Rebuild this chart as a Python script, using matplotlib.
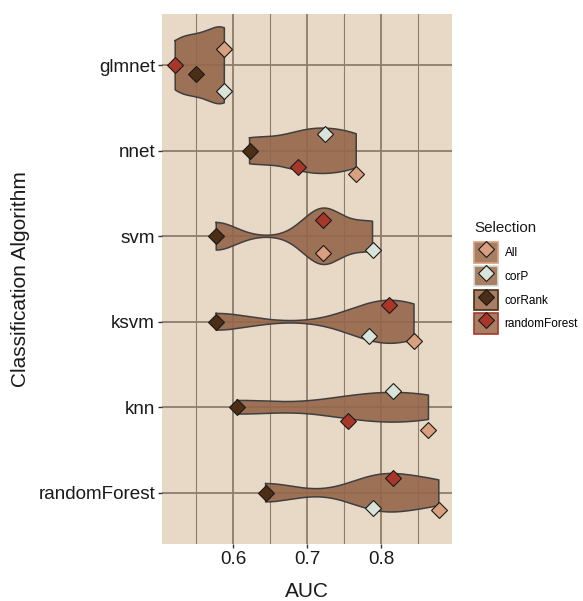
import numpy as np
import matplotlib
matplotlib.use('Agg')
import matplotlib.pyplot as plt
from matplotlib.patches import Rectangle
from matplotlib.lines import Line2D
from matplotlib.ticker import MultipleLocator

plt.rcParams['font.family'] = ['Liberation Sans', 'DejaVu Sans']

# Data
algorithms = ['glmnet', 'nnet', 'svm', 'ksvm', 'knn', 'randomForest']
selections = ['All', 'corP', 'corRank', 'randomForest']
auc = {
    'All':          [0.588, 0.766, 0.721, 0.844, 0.8635, 0.8775],
    'corP':         [0.588, 0.724, 0.788, 0.783, 0.816, 0.788],
    'corRank':      [0.5496, 0.622, 0.577, 0.577, 0.605, 0.6437],
    'randomForest': [0.5216, 0.688, 0.721, 0.810, 0.755, 0.816],
}
# vertical jitter of the points (in category units)
jitter = {
    'All':          [-0.196, 0.27, 0.20, 0.226, 0.265, 0.20],
    'corP':         [0.30, -0.195, 0.156, 0.164, -0.19, 0.18],
    'corRank':      [0.105, 0.0, 0.0, 0.0, 0.0, 0.0],
    'randomForest': [0.0, 0.19, -0.195, -0.20, 0.156, -0.176],
}
colors = {'All': '#D9A07F', 'corP': '#D9E3DA',
          'corRank': '#4B2E14', 'randomForest': '#A8372A'}


# Gaussian KDE with R's nrd0 bandwidth, trimmed to data range
def kde_trim(d, n=512):
    d = np.asarray(d)
    sd = d.std(ddof=1)
    q1, q3 = np.percentile(d, [25, 75])
    lo = min(sd, (q3 - q1) / 1.34)
    bw = 0.9 * lo * len(d) ** -0.2
    x = np.linspace(d.min(), d.max(), n)
    dens = np.exp(-0.5 * ((x[:, None] - d[None, :]) / bw) ** 2).sum(1)
    dens /= len(d) * bw * np.sqrt(2 * np.pi)
    return x, dens


fig = plt.figure(figsize=(5.83, 6.01), dpi=100)
ax = fig.add_axes([0.2779, 0.0948, 0.4974, 0.8819])
ax.set_facecolor('#E8D9C6')

# violins (scale = area: common max density)
dens_all = []
for i, a in enumerate(algorithms):
    vals = [auc[s][i] for s in selections]
    dens_all.append(kde_trim(vals))
dmax = max(d.max() for _, d in dens_all)
for i, (x, d) in enumerate(dens_all):
    w = 0.45 * d / dmax
    ax.fill_between(x, i - w, i + w, facecolor='#94664A', alpha=0.9,
                    edgecolor='none', zorder=3)
    xs = np.concatenate([x, x[::-1], x[:1]])
    ys = np.concatenate([i - w, (i + w)[::-1], [i - w[0]]])
    ax.plot(xs, ys, color='#3F3F3F', lw=1.1, zorder=4)

# points
ypos = np.arange(len(algorithms))
for s in selections:
    ax.plot(auc[s], ypos + np.array(jitter[s]), ls='none', marker='D',
            ms=8.0, mfc=colors[s], mec='#1A1A1A', mew=0.8, zorder=5)

ax.set_xlim(0.5038, 0.8953)
ax.set_ylim(5.6, -0.6)
ax.xaxis.set_minor_locator(MultipleLocator(0.05))
ax.set_xticks([0.6, 0.7, 0.8])
ax.set_xticklabels(['0.6', '0.7', '0.8'])
ax.set_yticks(ypos)
ax.set_yticklabels(algorithms)
ax.grid(which='major', color='#8C7D6C', lw=1.3, zorder=1)
ax.grid(which='minor', axis='x', color='#8C7D6C', lw=0.8, zorder=1)
ax.set_axisbelow(True)
for sp in ax.spines.values():
    sp.set_visible(False)
ax.tick_params(which='major', length=3, width=1, color='#333333',
               labelsize=13.6, labelcolor='#1A1A1A', pad=2)
ax.tick_params(which='minor', length=0)
ax.set_xlabel('AUC', fontsize=15, labelpad=10, color='#1A1A1A')
ax.set_ylabel('Classification Algorithm', fontsize=15, labelpad=6,
              color='#1A1A1A')

# legend
handles = []
for s in selections:
    key = Rectangle((0, 0), 1, 1, facecolor='#A87F63', edgecolor=colors[s],
                    lw=1.2)
    pt = Line2D([], [], ls='none', marker='D', ms=8.0, mfc=colors[s],
                mec='#1A1A1A', mew=0.8)
    handles.append((key, pt))
fig.text(0.813, 0.6206, 'Selection', fontsize=10.9, color='#1A1A1A',
         ha='left', va='center')
leg = fig.legend(handles, selections, loc='upper left',
                 bbox_to_anchor=(0.813, 0.597), frameon=False, fontsize=8.5,
                 handlelength=2.0, handleheight=2.3, labelspacing=0.27,
                 handletextpad=0.6, borderpad=0, borderaxespad=0)

fig.savefig('out.png', dpi=100)
